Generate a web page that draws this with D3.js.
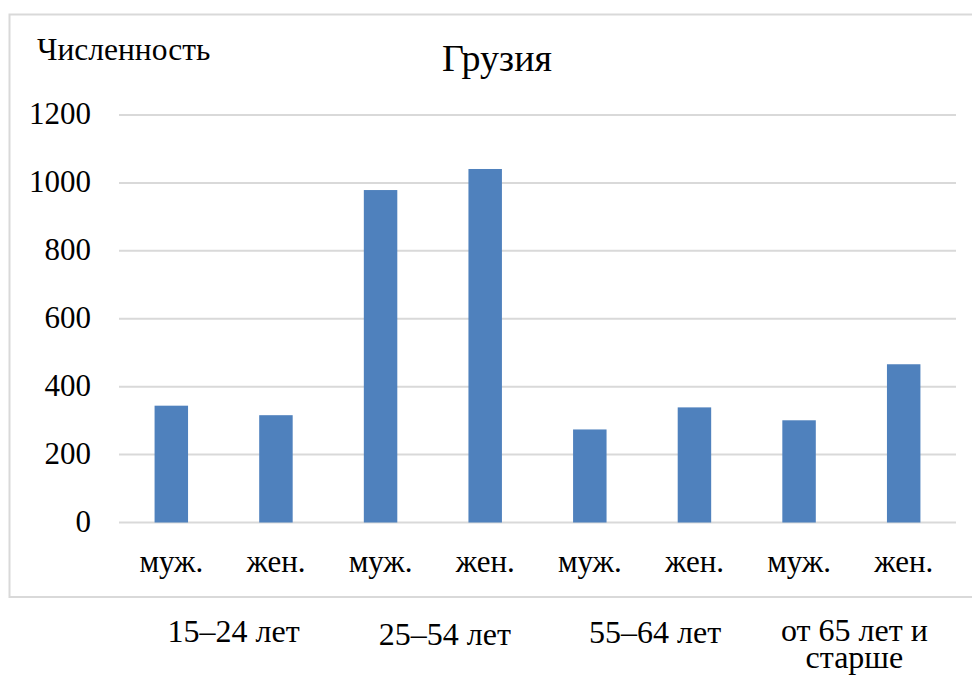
<!DOCTYPE html>
<html>
<head>
<meta charset="utf-8">
<script src="https://cdn.jsdelivr.net/npm/d3@7"></script>
</head>
<body style="margin:0;padding:0;background:#fff">
<svg id="chart" width="972" height="681" style="display:block"></svg>
<script>
// ---- data ----
const categories = ["муж.", "жен.", "муж.", "жен.", "муж.", "жен.", "муж.", "жен."];
const values = [344, 316, 979, 1041, 274, 339, 301, 466];
const groups = [["15–24 лет"], ["25–54 лет"], ["55–64 лет"], ["от 65 лет и", "старше"]];
const yTicks = [0, 200, 400, 600, 800, 1000, 1200];
const title = "Грузия";
const yTitle = "Численность";

// ---- layout ----
const plot = { left: 119, right: 956, top: 115, bottom: 522.5 };
const svg = d3.select("#chart");
const FONT = '"Liberation Serif", "Times New Roman", serif';

// outer border
svg.append("rect")
  .attr("x", 9.5).attr("y", 14.5)
  .attr("width", 980).attr("height", 582.5)
  .attr("fill", "#fff").attr("stroke", "#d9d9d9").attr("stroke-width", 2);

const x = d3.scaleBand()
  .domain(d3.range(categories.length))
  .range([plot.left, plot.right])
  .paddingInner(0.68).paddingOuter(0.34);

const y = d3.scaleLinear().domain([0, 1200]).range([plot.bottom, plot.top]);

// gridlines
svg.append("g").selectAll("line").data(yTicks).join("line")
  .attr("x1", plot.left).attr("x2", plot.right)
  .attr("y1", d => y(d)).attr("y2", d => y(d))
  .attr("stroke", "#d9d9d9").attr("stroke-width", 2);

// y axis labels
const yAxis = d3.axisLeft(y).tickValues(yTicks).tickFormat(d3.format("d")).tickSize(0).tickPadding(0);
const ga = svg.append("g").attr("transform", `translate(${plot.left - 28},0)`).call(yAxis);
ga.select(".domain").remove();
ga.selectAll("text")
  .style("font-family", FONT).style("font-size", "31px")
  .attr("fill", "#000").attr("dy", null).attr("y", 8.5);

// bars
svg.append("g").selectAll("rect").data(values).join("rect")
  .attr("x", (d, i) => x(i))
  .attr("width", x.bandwidth())
  .attr("y", d => y(d))
  .attr("height", d => y(0) - y(d))
  .attr("fill", "#4f81bd");

// category labels
const xAxis = d3.axisBottom(x).tickFormat(i => categories[i]).tickSize(0).tickPadding(0);
const gx = svg.append("g").attr("transform", `translate(0,${plot.bottom})`).call(xAxis);
gx.select(".domain").remove();
gx.selectAll("text")
  .style("font-family", FONT).style("font-size", "31px")
  .attr("fill", "#000").attr("dy", null).attr("y", 49);

// group labels (below the chart frame)
const groupOffsets = [10, 12, 13, 3];
const groupBase = [642, 645, 643, 641];
groups.forEach((lines, g) => {
  const cx = (x(2 * g) + x(2 * g + 1) + x.bandwidth()) / 2 + groupOffsets[g];
  lines.forEach((ln, k) => {
    svg.append("text")
      .attr("text-anchor", "middle")
      .style("font-family", FONT).style("font-size", "32px")
      .attr("x", cx).attr("y", groupBase[g] + k * 27)
      .text(ln);
  });
});

// title
svg.append("text")
  .attr("x", 497).attr("y", 71)
  .attr("text-anchor", "middle")
  .style("font-family", FONT).style("font-size", "38px")
  .text(title);

// y axis title
svg.append("text")
  .attr("x", 37).attr("y", 60)
  .style("font-family", FONT).style("font-size", "31.5px")
  .text(yTitle);
</script>
</body>
</html>
